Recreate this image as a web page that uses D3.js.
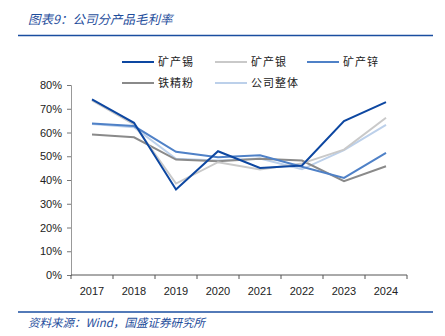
<!DOCTYPE html>
<html>
<head>
<meta charset="utf-8">
<script src="https://cdn.jsdelivr.net/npm/d3@7"></script>
<style>
  html, body { margin: 0; padding: 0; background: #fff; }
  svg { display: block; }
</style>
</head>
<body>
<div id="chart"></div>
<script>
// data
const years = ["2017", "2018", "2019", "2020", "2021", "2022", "2023", "2024"];
const tin     = [73.9, 64.1, 36.0, 52.1, 45.1, 46.1, 64.8, 72.8];  // 矿产锡
const silver  = [73.5, 63.4, 38.5, 47.5, 44.4, 47.0, 52.8, 66.2];  // 矿产银
const zinc    = [63.8, 62.7, 51.9, 49.6, 50.4, 45.6, 40.9, 51.4];  // 矿产锌
const ironOre = [59.2, 58.0, 48.6, 47.9, 48.9, 48.2, 39.5, 45.8];  // 铁精粉
const overall = [63.6, 62.2, 48.9, 48.2, 49.0, 44.5, 52.6, 63.2];  // 公司整体
const yTicks  = [0, 10, 20, 30, 40, 50, 60, 70, 80];

const series = [
    { name: "矿产锡", values: tin,     color: "#0d47a1" },
    { name: "矿产银", values: silver,  color: "#c9c9c9" },
    { name: "矿产锌", values: zinc,    color: "#4f81c7" },
    { name: "铁精粉", values: ironOre, color: "#8a8a8a" },
    { name: "公司整体", values: overall, color: "#bcd0ea" }
];

const W = 445, H = 336;
const plot = { left: 71, right: 407, top: 85, bottom: 275 };
const blue = "#1f4e9c";
const cjk = "'Noto Sans CJK SC', 'Noto Sans', sans-serif";

const svg = d3.select("#chart").append("svg")
    .attr("width", W).attr("height", H)
    .attr("viewBox", `0 0 ${W} ${H}`);

// title + rule
svg.append("text")
    .attr("x", 28).attr("y", 24)
    .attr("fill", blue)
    .style("font-family", cjk).style("font-size", "12.5px")
    .style("font-style", "italic")
    .text("图表9：公司分产品毛利率");
svg.append("line")
    .attr("x1", 18).attr("x2", 433).attr("y1", 35.5).attr("y2", 35.5)
    .attr("stroke", "#1a4ea0").attr("stroke-width", 1.5);

const x = d3.scaleBand().domain(years).range([plot.left, plot.right]);
const y = d3.scaleLinear().domain([0, 80]).range([plot.bottom, plot.top]);

// y axis
const yAxis = svg.append("g")
    .attr("transform", `translate(${plot.left},0)`)
    .call(d3.axisLeft(y).tickValues(yTicks).tickSize(4).tickPadding(5)
        .tickFormat(d => d + "%"));
yAxis.select(".domain").attr("stroke", "#999");
yAxis.selectAll(".tick line").attr("stroke", "#777");
yAxis.selectAll("text")
    .attr("fill", "#222")
    .style("font-family", "'Liberation Sans', Arial, sans-serif")
    .style("font-size", "11px");

// x axis: ticks at band boundaries
const xAxis = svg.append("g")
    .attr("transform", `translate(0,${plot.bottom})`);
xAxis.append("line")
    .attr("x1", plot.left).attr("x2", plot.right)
    .attr("stroke", "#555");
const bounds = years.map(d => x(d)).concat([plot.right]);
xAxis.selectAll("line.tk").data(bounds).join("line")
    .attr("class", "tk")
    .attr("x1", d => d).attr("x2", d => d)
    .attr("y1", 0).attr("y2", 4)
    .attr("stroke", "#555");
xAxis.selectAll("text").data(years).join("text")
    .attr("x", d => x(d) + x.bandwidth() / 2)
    .attr("y", 20)
    .attr("text-anchor", "middle")
    .attr("fill", "#222")
    .style("font-family", "'Liberation Sans', Arial, sans-serif")
    .style("font-size", "11px")
    .text(d => d);

// lines
const line = d3.line()
    .x((d, i) => x(years[i]) + x.bandwidth() / 2)
    .y(d => y(d));
const drawOrder = [4, 3, 1, 2, 0];
svg.append("g").selectAll("path")
    .data(drawOrder.map(i => series[i]))
    .join("path")
    .attr("d", s => line(s.values))
    .attr("fill", "none")
    .attr("stroke", s => s.color)
    .attr("stroke-width", 2)
    .attr("stroke-linejoin", "miter");

// legend
const legendPos = [
    { lx: 122, ty: 62 }, { lx: 215, ty: 62 }, { lx: 307, ty: 62 },
    { lx: 122, ty: 83 }, { lx: 215, ty: 83 }
];
const leg = svg.append("g").selectAll("g")
    .data(series)
    .join("g")
    .attr("transform", (s, i) => `translate(${legendPos[i].lx},${legendPos[i].ty})`);
leg.append("line")
    .attr("x1", 0).attr("x2", 32)
    .attr("stroke", s => s.color).attr("stroke-width", 2);
leg.append("text")
    .attr("x", 36).attr("y", 4)
    .attr("fill", "#222")
    .style("font-family", cjk).style("font-size", "11px")
    .style("letter-spacing", "1px")
    .text(s => s.name);

// footer
svg.append("line")
    .attr("x1", 18).attr("x2", 433).attr("y1", 312).attr("y2", 312)
    .attr("stroke", "#1a4ea0").attr("stroke-width", 1.5);
svg.append("text")
    .attr("x", 28).attr("y", 327)
    .attr("fill", blue)
    .style("font-family", cjk).style("font-size", "11.5px")
    .style("font-style", "italic")
    .text("资料来源：Wind，国盛证券研究所");
</script>
</body>
</html>
